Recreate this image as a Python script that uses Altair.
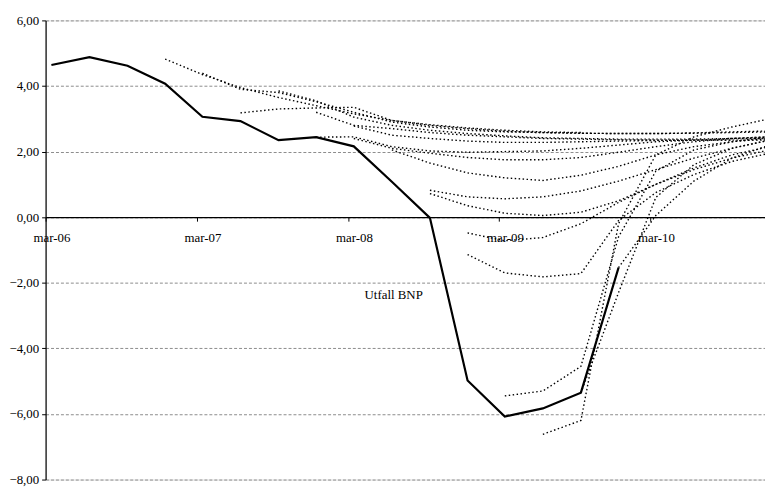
import altair as alt
import pandas as pd

# Quarterly observation dates (mid-month of each quarter's last month)
quarters = [
    "2006-03-15", "2006-06-15", "2006-09-15", "2006-12-15",
    "2007-03-15", "2007-06-15", "2007-09-15", "2007-12-15",
    "2008-03-15", "2008-06-15", "2008-09-15", "2008-12-15",
    "2009-03-15", "2009-06-15", "2009-09-15", "2009-12-15",
    "2010-03-15", "2010-06-15", "2010-09-15", "2010-12-15",
]

# Outcome (Utfall BNP)
utfall = [4.64, 4.88, 4.62, 4.07, 3.06, 2.93, 2.35, 2.44, 2.16, 1.08,
          -0.02, -4.98, -6.08, -5.83, -5.35, -1.54]

# Forecast vintages: (index of first quarter, values)
fc_u1 = (3, [4.82, 4.35, 3.95, 3.65, 3.40, 3.15, 2.95, 2.82, 2.72, 2.65, 2.60, 2.58])
fc_u2 = (4, [4.39, 3.90, 3.80, 3.52, 3.20, 2.90, 2.75, 2.65, 2.60, 2.58, 2.56, 2.55,
             2.55, 2.57, 2.60, 2.63])
fc_u3 = (5, [3.18, 3.30, 3.33, 3.35, 2.95, 2.80, 2.70, 2.62, 2.58, 2.56, 2.55, 2.55,
             2.56, 2.58, 2.60])
fc_u4 = (6, [3.85, 3.55, 3.05, 2.80, 2.65, 2.55, 2.48, 2.42, 2.40, 2.38, 2.38, 2.38,
             2.40, 2.45])
fc_u5 = (7, [3.20, 2.80, 2.70, 2.58, 2.50, 2.45, 2.40, 2.38, 2.36, 2.35, 2.35, 2.35])
fc_u6 = (8, [2.78, 2.50, 2.40, 2.32, 2.28, 2.28, 2.30, 2.32, 2.34, 2.35, 2.35, 2.35])
fc_d0 = (7, [2.44, 2.45, 2.15, 2.02, 1.98, 2.00, 2.02, 2.10, 2.20, 2.30, 2.35, 2.40, 2.40])
fc_d1 = (8, [2.40, 2.10, 1.95, 1.82, 1.75, 1.75, 1.82, 1.98, 2.15, 2.30, 2.40, 2.45])
fc_d2 = (9, [2.05, 1.65, 1.35, 1.20, 1.12, 1.28, 1.55, 1.90, 2.15, 2.30, 2.40])
fc_e1 = (10, [0.82, 0.62, 0.56, 0.62, 0.80, 1.10, 1.45, 1.80, 2.10, 2.35])
fc_e2 = (10, [0.72, 0.35, 0.12, 0.05, 0.15, 0.50, 1.00, 1.50, 1.90, 2.15])
fc_f = (11, [-0.48, -0.72, -0.62, -0.20, 0.45, 1.00, 1.45, 1.80, 2.05])
fc_g = (11, [-1.14, -1.70, -1.82, -1.72, -0.10, 0.75, 1.30, 1.70, 1.95])
fc_h = (12, [-5.45, -5.30, -4.55, -0.60, 1.40, 2.05, 2.30, 2.45])
fc_i = (13, [-6.62, -6.20, -0.20, 1.90, 2.45, 2.75, 3.00])
fc_j = (14, [-5.35, -2.30, 0.60, 1.60, 2.10, 2.35])
fc_k = (15, [-1.54, 0.05, 1.10, 1.80, 2.20])

forecasts = {
    "u1": fc_u1, "u2": fc_u2, "u3": fc_u3, "u4": fc_u4, "u5": fc_u5, "u6": fc_u6,
    "d0": fc_d0, "d1": fc_d1, "d2": fc_d2, "e1": fc_e1, "e2": fc_e2,
    "f": fc_f, "g": fc_g, "h": fc_h, "i": fc_i, "j": fc_j, "k": fc_k,
}

tick_years = [2006, 2007, 2008, 2009, 2010]

label_text = ["Utfall BNP"]
label_date = ["2008-04-10"]
label_value = [-2.37]

# Build tables
df_out = pd.DataFrame({"date": quarters[:len(utfall)], "value": utfall})
rows = []
for name, (start, vals) in forecasts.items():
    for k, v in enumerate(vals):
        rows.append({"series": name, "date": quarters[start + k], "value": v})
df_fc = pd.DataFrame(rows)
df_lab = pd.DataFrame({"text": label_text, "date": label_date, "value": label_value})

W, H = 727, 464
FONT = "Liberation Serif"

x_scale = alt.Scale(
    type="utc",
    domain=[alt.DateTime(year=2006, month=3, date=1, utc=True),
            alt.DateTime(year=2010, month=12, date=4, utc=True)],
)
y_scale = alt.Scale(domain=[-8, 6], nice=False, zero=False)

x_axis = alt.Axis(
    values=[alt.DateTime(year=y, month=3, date=1, utc=True) for y in tick_years],
    labelExpr="lower(utcFormat(datum.value, '%b-%y'))",
    title=None,
    grid=False,
    offset=-(H * 8 / 14),
    domainColor="black",
    domainWidth=1.2,
    tickColor="black",
    tickSize=4,
    labelOffset=6,
    labelPadding=11,
    labelFont=FONT,
    labelFontSize=13,
    labelColor="black",
    labelFlush=False,
    labelOverlap=False,
)
y_axis = alt.Axis(
    values=[-8, -6, -4, -2, 0, 2, 4, 6],
    labelExpr="replace(format(datum.value, '.2f'), '.', ',')",
    title=None,
    grid=True,
    gridColor="#8c8c8c",
    gridDash=[3, 2],
    gridWidth=1,
    domainColor="black",
    domainWidth=1.2,
    tickColor="black",
    tickSize=4,
    labelPadding=3,
    labelFont=FONT,
    labelFontSize=13,
    labelColor="black",
    labelFlush=False,
)

base_x = alt.X("date:T", scale=x_scale, axis=x_axis)
base_y = alt.Y("value:Q", scale=y_scale, axis=y_axis)

fc_lines = alt.Chart(df_fc).mark_line(
    color="black", strokeWidth=1.4, strokeDash=[1.5, 2.5], clip=True
).encode(
    x=base_x,
    y=base_y,
    detail="series:N",
)

out_line = alt.Chart(df_out).mark_line(
    color="black", strokeWidth=2.2, clip=True
).encode(x="date:T", y="value:Q")

lab = alt.Chart(df_lab).mark_text(
    align="left", baseline="middle", font=FONT, fontSize=13, color="black"
).encode(x="date:T", y="value:Q", text="text:N")

chart = alt.layer(fc_lines, out_line, lab).properties(
    width=W, height=H,
    autosize=alt.AutoSizeParams(type="none"),
    padding={"left": 38, "top": 10, "right": 0, "bottom": 6},
).configure_view(stroke=None).configure(background="white")

chart.save("out.html", embed_options={"renderer": "svg", "actions": False})
